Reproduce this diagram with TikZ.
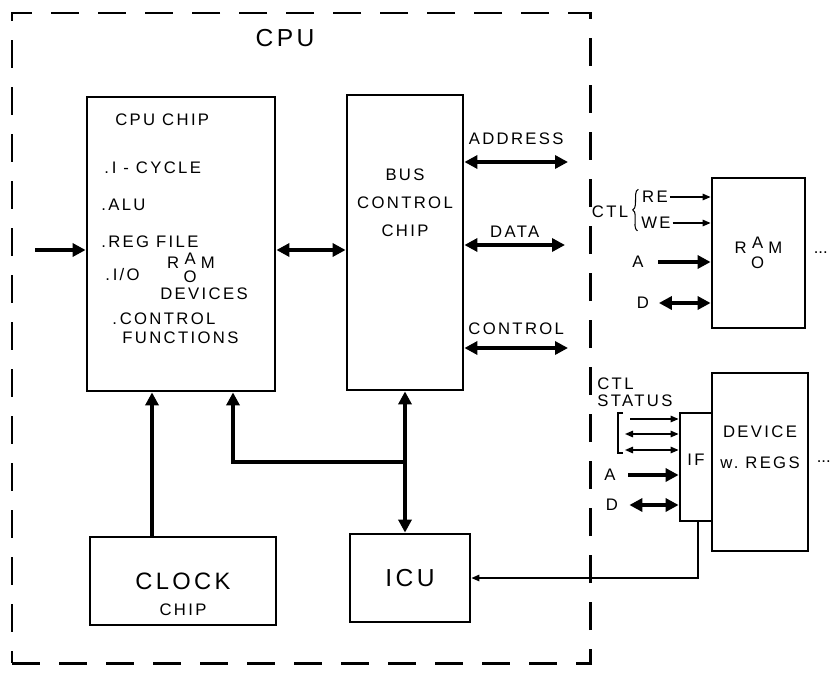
\documentclass[tikz,border=0pt]{standalone}
\usepackage{fontspec}
\setmainfont{Liberation Sans}
\newfontfamily\lettering[LetterSpace=14]{Liberation Sans}
\usetikzlibrary{arrows.meta, positioning, calc, decorations.pathreplacing}

\newcommand{\ramrom}[1][1.5pt]{R\hspace{2.5pt}\raisebox{-2pt}{$\vcenter{\hbox{\shortstack{A\\[#1]O}}}$}\hspace{2.5pt}M}

\begin{document}
\begin{tikzpicture}[
    >={Triangle[length=0.26cm,width=0.26cm]},
    font=\lettering\fontsize{9.5}{11}\selectfont,
    box/.style={draw, line width=1.6pt, inner sep=0pt, align=center},
    cpuframe/.style={draw, line width=1.7pt, dash pattern=on 0.56cm off 0.38cm, inner sep=0pt},
    txt/.style={inner sep=0pt, anchor=west},
    lbl/.style={inner sep=0pt},
    dots/.style={anchor=west, inner sep=0pt, font=\normalfont\fontsize{9.5}{11}\selectfont},
    bigtxt/.style={font=\lettering\fontsize{14}{16}\selectfont},
    bus/.style={line width=2.3pt},
    arr/.style={bus, ->},
    dbl/.style={bus, <->},
    sig/.style={line width=0.8pt, -{Triangle[length=0.16cm,width=0.13cm]}},
    sigd/.style={line width=0.8pt, {Triangle[length=0.16cm,width=0.13cm]}-{Triangle[length=0.16cm,width=0.13cm]}}
]
\useasboundingbox (0,0) rectangle (16.6,-13.48);

% ================= CPU FRAME =================
\node[cpuframe, minimum width=11.56cm, minimum height=13.00cm] (cpu) at (6.02,-6.76) {};
\node[bigtxt] (cpulbl) at (5.70,-0.76) {CPU};

% chips
\node[box, minimum width=3.76cm, minimum height=5.88cm] (cpuchip) at (3.62,-4.88) {};
\node[box, minimum width=2.32cm, minimum height=5.90cm] (busctl) at (8.10,-4.85) {};
\node[box, font=\lettering\fontsize{13.5}{16}\selectfont, minimum width=3.72cm, minimum height=1.76cm] (clock) at (3.66,-11.62) {CLOCK};
\node[lbl] (clockchip) at ([yshift=-0.58cm]clock.center) {CHIP};
\node[box, bigtxt, minimum width=2.40cm, minimum height=1.76cm] (icu) at (8.20,-11.56) {ICU};

% CPU chip contents
\node[txt] (cpuhead) at (2.30,-2.40) {CPU CHIP};
\node[txt] (icycle) at (2.08,-3.36) {.\,I - CYCLE};
\node[txt] (alu) at (2.02,-4.10) {.ALU};
\node[txt] (regfile) at (2.02,-4.84) {.REG FILE};
\node[txt] (io) at (2.10,-5.50) {.\,I/O};
\node[lbl] (iomem) at (3.82,-5.36) {\ramrom[0.8pt]};
\node[lbl] (iodev) at (4.08,-5.88) {DEVICES};
\node[txt] (ctlfn) at (2.24,-6.38) {.\,CONTROL};
\node[txt] (ctlfn2) at (2.44,-6.76) {FUNCTIONS};

% Bus control chip contents
\node[lbl, align=center, font=\lettering\fontsize{9.5}{16}\selectfont] (buslbl) at (8.10,-4.06) {BUS\\CONTROL\\CHIP};

% Arrows inside CPU
\coordinate (inp) at (0.70,-5.00);
\draw[arr] (inp) -- (inp -| cpuchip.west);
\draw[dbl] (inp -| cpuchip.east) -- (inp -| busctl.west);
\draw[arr] ([xshift=-0.62cm]clock.north) -- ([xshift=-0.62cm]clock.north |- cpuchip.south);
\draw[dbl] (busctl.south) -- (busctl.south |- icu.north);
\coordinate (tap) at (8.10,-9.24);
\draw[arr] (tap) -| ([xshift=1.04cm]cpuchip.south);

% System bus
\coordinate (addr) at (11.36,-3.24);
\coordinate (data) at (11.30,-4.90);
\coordinate (ctrl) at (11.36,-6.96);
\draw[dbl] (busctl.east |- addr) -- (addr) node[midway, above=9pt, lbl] (addrlbl) {ADDRESS};
\draw[dbl] (busctl.east |- data) -- (data) node[midway, above=3pt, lbl] (datalbl) {DATA};
\draw[dbl] (busctl.east |- ctrl) -- (ctrl) node[midway, above=6.5pt, lbl] (ctrllbl) {CONTROL};

% ================= RAM / ROM =================
\node[box, minimum width=1.86cm, minimum height=3.00cm] (ram) at (15.17,-5.06) {\ramrom};
\node[dots] (ramdots) at ([xshift=0.14cm]ram.east) {...};

\node[inner sep=1pt] (re) at (13.10,-3.94) {RE};
\node[inner sep=1pt] (we) at (13.12,-4.46) {WE};
\draw[sig] (re.east) -- (re.east -| ram.west);
\draw[sig] (we.east) -- (we.east -| ram.west);
\draw[line width=0.6pt, decorate, decoration={brace, amplitude=3pt}]
    ([xshift=-1pt]we.south west) -- ([xshift=-1pt]re.north west);
\node[lbl] (ramctl) at (12.20,-4.24) {CTL};

\node[lbl] (rama) at (12.76,-5.24) {A};
\node[lbl] (ramd) at (12.86,-6.06) {D};
\draw[arr, shorten <=0.29cm] (rama.east) -- (rama -| ram.west);
\draw[dbl, shorten <=0.19cm] (ramd.east) -- (ramd -| ram.west);

% ================= DEVICE =================
\node[box, minimum width=1.92cm, minimum height=3.56cm] (device) at (15.20,-9.24) {};
\node[lbl, align=center, font=\lettering\fontsize{9.5}{17.6}\selectfont] (devlbl) at (15.20,-8.95) {DEVICE\\w.\ REGS};
\node[dots] (devdots) at ([xshift=0.14cm]device.east) {...};
\node[box, fill=white, minimum width=0.64cm, minimum height=2.16cm] (iface) at (13.92,-9.34) {};
\node[lbl] (iflbl) at ([yshift=0.14cm]iface.center) {IF};

\node[lbl, align=left, anchor=north west, font=\lettering\fontsize{9.5}{9.6}\selectfont] (ctlstat) at (11.94,-7.55) {CTL\\STATUS};
\draw[line width=0.8pt] (12.46,-8.26) -| (12.36,-9.06) -- (12.46,-9.06);
\coordinate (st1) at (12.60,-8.38);
\coordinate (st2) at (12.50,-8.68);
\coordinate (st3) at (12.50,-9.00);
\draw[sig] (st1) -- (st1 -| iface.west);
\draw[sigd] (st2) -- (st2 -| iface.west);
\draw[sigd] (st3) -- (st3 -| iface.west);

\node[lbl] (ifa) at (12.20,-9.50) {A};
\node[lbl] (ifd) at (12.24,-10.10) {D};
\draw[arr, shorten <=0.25cm] (ifa.east) -- (ifa -| iface.west);
\draw[dbl, shorten <=0.22cm] (ifd.east) -- (ifd -| iface.west);

% Interrupt line back to ICU
\draw[sig] ([xshift=0.04cm]iface.south) |- (icu.east);

\end{tikzpicture}
\end{document}
